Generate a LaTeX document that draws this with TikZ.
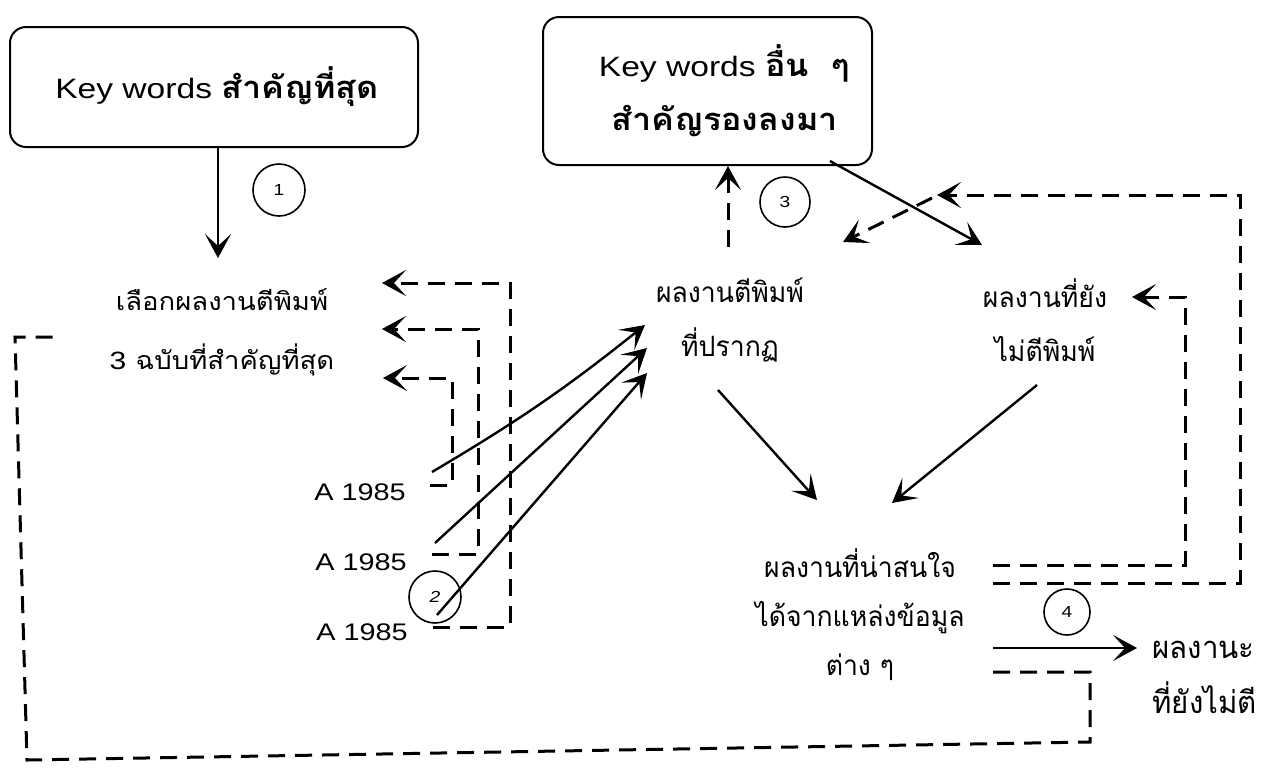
\documentclass[tikz,border=0pt]{standalone}
\usepackage{fontspec}
\setmainfont{Liberation Sans}[FakeStretch=1.2]
\newfontfamily\thaisans[Script=Thai,FakeStretch=1.1]{Loma}
\newfontfamily\thaithin[Script=Thai,FakeStretch=0.95]{Loma}
\usetikzlibrary{arrows.meta}

\tikzset{
  tip/.style={-{Stealth[length=12pt,width=13pt,inset=6pt]}},
  solidarrow/.style={tip, line width=1.2pt},
  dashline/.style={line width=1.5pt, dash pattern=on 8.5pt off 5pt},
  dasharrow/.style={dashline, tip},
  keybox/.style={draw, line width=1pt, rounded corners=8pt, inner sep=0pt, align=center},
  numcirc/.style={draw, circle, line width=0.8pt, inner sep=0pt, font=\fontsize{8}{9}\selectfont},
  thinlbl/.style={inner sep=0pt, align=center, font=\thaithin\fontsize{14}{27}\selectfont},
  yearlbl/.style={inner sep=0pt, font=\fontsize{12}{14}\selectfont},
}
\newcommand{\boldthai}[1]{{\thaisans\bfseries\fontsize{15.5}{27}\selectfont #1}}

\begin{document}
\begin{tikzpicture}[x=0.5pt,y=-0.5pt]
\useasboundingbox (0,0) rectangle (1266,768);
\fill[white] (0,0) rectangle (1266,768);

% keyword boxes
\node[keybox, minimum width=204pt, minimum height=60pt,
      font=\fontsize{14}{27}\selectfont] (kw1) at (214,87)
  {\hspace*{3pt}Key words \boldthai{สำคัญที่สุด}};
\node[keybox, minimum width=164.5pt, minimum height=74pt,
      font=\fontsize{14}{27}\selectfont] (kw2) at (707.5,91)
  {\hspace*{17pt}Key words \boldthai{อื่น\ \ ๆ}\\\hspace*{17pt}\boldthai{สำคัญรองลงมา}};

% text labels
\node[inner sep=0pt, align=center, font=\thaisans\fontsize{12.5}{29.5}\selectfont]
  (sel) at (222,332) {เลือกผลงานตีพิมพ์\\{\rmfamily 3} ฉบับที่สำคัญที่สุด};
\node[yearlbl] (y1) at (360,492) {A 1985};
\node[yearlbl] (y2) at (361,562) {A 1985};
\node[yearlbl] (y3) at (362,632) {A 1985};
\node[thinlbl] (pub) at (730,320) {ผลงานตีพิมพ์\\ที่ปรากฏ};
\node[thinlbl] (unpub) at (1045,320) {ผลงานที่ยัง\\ไม่ตีพิมพ์};
\node[thinlbl, font=\thaithin\fontsize{14}{24.5}\selectfont] (found) at (860,615)
  {ผลงานที่น่าสนใจ\\ได้จากแหล่งข้อมูล\\ต่าง ๆ};
\node[thinlbl, anchor=west, align=left, font=\thaithin\fontsize{15.5}{27.5}\selectfont]
  (rest) at (1152,677) {ผลงานะ\\ที่ยังไม่ตี};

% step numbers
\node[numcirc, minimum size=26pt] (n1) at (279,190) {1};
\node[numcirc, minimum size=26pt] (n2) at (435,597) {\itshape 2};
\node[numcirc, minimum size=25pt] (n3) at (785,202) {3};
\node[numcirc, minimum size=23pt] (n4) at (1067,612) {4};

% connector end points
\coordinate (selTop) at (218,258);
\coordinate (y1o) at (432,472);
\coordinate (y2o) at (435,543);
\coordinate (y3o) at (437,615);
\coordinate (pubIn1) at (645,325);
\coordinate (pubIn2) at (647,348);
\coordinate (pubIn3) at (647,373);
\coordinate (pubUp) at (728,247);
\coordinate (kw2Out) at (830,161);
\coordinate (unpubIn) at (982,245);
\coordinate (pubOut) at (718,390);
\coordinate (foundInL) at (817,500);
\coordinate (unpubOut) at (1037,385);
\coordinate (foundInR) at (892,503);
\coordinate (foundOut) at (993,648);
\coordinate (restIn) at (1137,648);
\coordinate (back1) at (383,378);
\coordinate (back2) at (382,329);
\coordinate (back3) at (382,283);
\coordinate (unpubBack) at (1132,297);
\coordinate (loopEnd) at (937,195);
\coordinate (loopFork) at (932,198);
\coordinate (pubBack) at (843,242);

% solid connectors
\draw[solidarrow] (kw1.south -| selTop) -- (selTop);
\draw[solidarrow] (y1o) to[bend right=4] (pubIn1);
\draw[solidarrow] (y2o) -- (pubIn2);
\draw[solidarrow] (y3o) -- (pubIn3);
\draw[solidarrow] (kw2Out) -- (unpubIn);
\draw[solidarrow] (pubOut) -- (foundInL);
\draw[solidarrow] (unpubOut) -- (foundInR);
\draw[solidarrow] (foundOut) -- (restIn);

% dashed feedback connectors
\draw[dasharrow] (pubUp) -- (kw2.south -| pubUp);
\draw[dasharrow] (430,485) -| (452,440) |- (back1);
\draw[dasharrow] (432,554) -| (478,440) |- (back2);
\draw[dasharrow] (433,627) -| (510,440) |- (back3);
\draw[dasharrow] (993,565) -| (1185,430) |- (unpubBack);
\draw[dasharrow] (993,583) -| (1240,400) |- (loopEnd);
\draw[dasharrow] (loopFork) -- (pubBack);
\draw[dashline] (993,672) -- (1090,672) -- (1090,742) -- (27,760) -- (15,337) -- (58,337);
\end{tikzpicture}
\end{document}
